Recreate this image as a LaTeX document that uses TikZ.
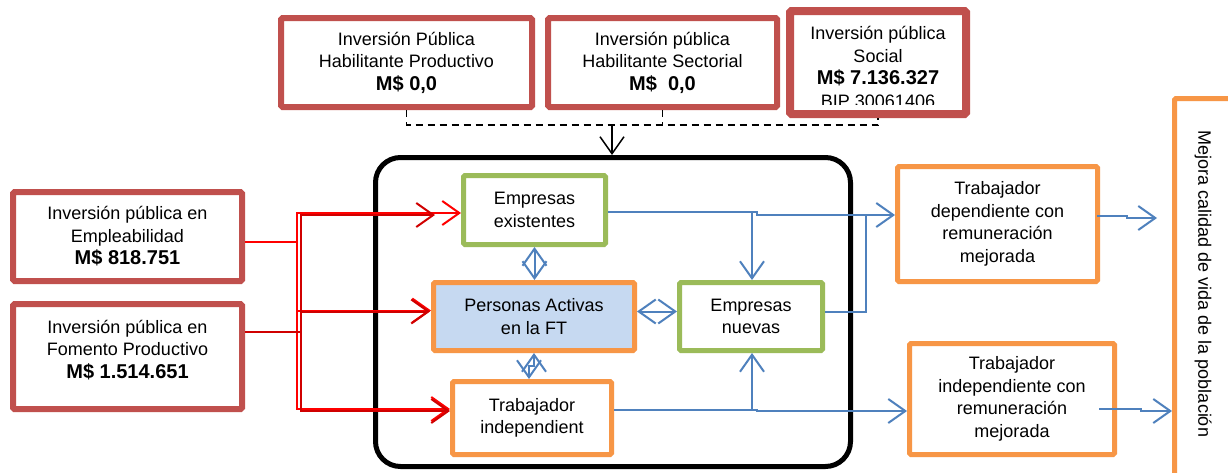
\documentclass[tikz,border=0pt]{standalone}
\usepackage{fontspec}
\setmainfont{Liberation Sans}
\usetikzlibrary{arrows.meta,calc}
\definecolor{rbox}{HTML}{C0504D}
\definecolor{gbox}{HTML}{9BBB59}
\definecolor{obox}{HTML}{F79646}
\definecolor{bline}{HTML}{4F81BD}
\definecolor{pfill}{HTML}{C6D9F1}
\definecolor{rline}{HTML}{FF0000}
\definecolor{rlinedk}{HTML}{D00000}
\newcommand{\bignum}[1]{{\fontsize{20pt}{22.5pt}\selectfont\bfseries #1}}
\tikzset{
  basebox/.style={fill=white, inner sep=0pt, align=center, rounded corners=1.5pt},
  rb/.style={basebox, draw=rbox, line width=6pt},
  gb/.style={basebox, draw=gbox, line width=5pt},
  ob/.style={basebox, draw=obox, line width=5pt},
  txt/.style={inner sep=0pt, align=center},
  tip/.style={-{Straight Barb[length=17pt,width=24pt]}},
  tiptwo/.style={{Straight Barb[length=17pt,width=24pt]}-{Straight Barb[length=17pt,width=24pt]}},
  rl/.style={draw=rline, line width=2pt},
  rla/.style={rl, tip},
  rl2/.style={draw=rlinedk, line width=2pt},
  rla2/.style={rl2, tip},
  bl/.style={draw=bline, line width=2pt},
  bla/.style={bl, tip},
  blaa/.style={bl, tiptwo},
  dsh/.style={draw=black, line width=1.5pt, dash pattern=on 7pt off 5pt},
  blk/.style={draw=black, line width=1.5pt, tip}
}
\begin{document}
\begin{tikzpicture}[x=1pt,y=-1pt,font=\fontsize{18pt}{22.5pt}\selectfont]
\useasboundingbox (0,0) rectangle (1228,472);
\clip (0,0) rectangle (1228,472);
\fill[white] (0,0) rectangle (1228,472);

% big black container
\node[draw=black, line width=5pt, rounded corners=25pt, minimum width=475pt, minimum height=309pt, inner sep=0pt] (big) at (613,312) {};

% top boxes
\node[rb, minimum width=251pt, minimum height=89pt] (hp) at (406.5,62.5) {Inversión Pública\\Habilitante Productivo\\\bignum{M\$ 0,0}};
\node[rb, minimum width=229pt, minimum height=89pt] (hs) at (662.5,62.5) {Inversión pública\\Habilitante Sectorial\\\bignum{M\$~~0,0}};
\node[rb, line width=8pt, minimum width=176pt, minimum height=103pt] (soc) at (878,62.5) {};
\begin{scope}
  \clip (792,12) rectangle (964,104);
  \node[txt] (soct) at (878,67) {Inversión pública\\Social\\\bignum{M\$ 7.136.327}\\BIP 30061406};
\end{scope}

% left boxes
\node[rb, minimum width=229pt, minimum height=89pt] (emp) at (127.5,236.5) {Inversión pública en\\Empleabilidad\\\bignum{M\$ 818.751}};
\node[rb, minimum width=229pt, minimum height=105pt] (fom) at (127.5,356.5) {};
\node[txt] (fomt) at (127.5,350) {Inversión pública en\\Fomento Productivo\\\bignum{M\$ 1.514.651}};

% inner boxes
\node[gb, minimum width=142pt, minimum height=69pt] (ee) at (534.5,210) {Empresas\\existentes};
\node[ob, fill=pfill, minimum width=201pt, minimum height=68pt] (pa) at (534,316.5) {Personas Activas\\en la FT};
\node[gb, minimum width=143pt, minimum height=68pt] (en) at (751,316.5) {Empresas\\nuevas};
\node[ob, minimum width=159pt, minimum height=73pt] (ti) at (532,418) {Trabajador\\independient};

% right boxes
\node[ob, minimum width=200pt, minimum height=115pt] (td) at (997.5,224) {Trabajador\\dependiente con\\remuneración\\mejorada};
\node[ob, minimum width=205pt, minimum height=111pt] (tic) at (1012,399) {Trabajador\\independiente con\\remuneración\\mejorada};
\node[ob, minimum width=58pt, minimum height=379pt] (mej) at (1203.5,288) {};
\node[txt, rotate=-90] (mejt) at (1203,284) {Mejora calidad de vida de la población};

% dashed collector
\coordinate (dl) at (406.5,125);
\coordinate (dr) at (878,125);
\coordinate (dj) at (612,125);
\draw[dsh] (hp.south) -- (dl) -- (dr) -- (soc.south);
\draw[dsh] (hs.south) -- (hs.south |- dl);
\draw[blk] (dj) -- (dj |- big.north);

% red connectors
\coordinate (r1) at (297,241.5);
\draw[rl] (emp.east |- r1) -- (r1);
\draw[rla] (r1) |- ($(ee.west)+(0,3)$);
\draw[rla] (r1) |- ($(pa.west)+(0,-6)$);
\draw[rla] (r1) |- ($(ti.west)+(0,-9)$);
\coordinate (r2) at (301,332);
\draw[rl2] (fom.east |- r2) -- (r2);
\draw[rla2] (r2) |- ($(ee.west)+(-26,5)$);
\draw[rla2] (r2) |- ($(pa.west)+(-1,-5)$);
\draw[rla2] (r2) |- ($(ti.west)+(0,-7)$);

% blue connectors
\coordinate (b1) at (752,212);
\coordinate (b2) at (866,215);
\draw[bl] (ee.east |- b1) -- (b1) -- ++(5,0) -- ++(0,3) -- (b2);
\draw[bla] (b1) -- (b1 |- en.north);
\draw[bla] (b2) -- (b2 -| td.west);
\draw[bl] ($(en.east)+(0,-5)$) -| (b2);
\draw[blaa] (ee.south) -- (ee.south |- pa.north);
\draw[blaa] (pa.south) -- ++(0,13) -| ($(ti.north)+(-3,0)$);
\draw[blaa] ($(pa.east)+(0,-5)$) -- ($(en.west)+(0,-5)$);
\coordinate (b3) at (752,410);
\coordinate (b4) at (757,411);
\draw[bl] ($(ti.east)+(0,-8)$) -- (b3);
\draw[bla] (b3) -- (b3 |- en.south);
\draw[bla] (b3) -- (b3 -| b4) -- (b4) -- (b4 -| tic.west);
\coordinate (m1) at (1157,218);
\coordinate (m2) at (1141,411);
\draw[bla] ($(td.east)+(-3,-8)$) -- ++(30,0) -- ++(0,2) -- (m1);
\draw[bla] ($(tic.east)+(-18,10)$) -- (m2 |- 0,409) -- (m2) -- (m2 -| mej.west);
\end{tikzpicture}
\end{document}
